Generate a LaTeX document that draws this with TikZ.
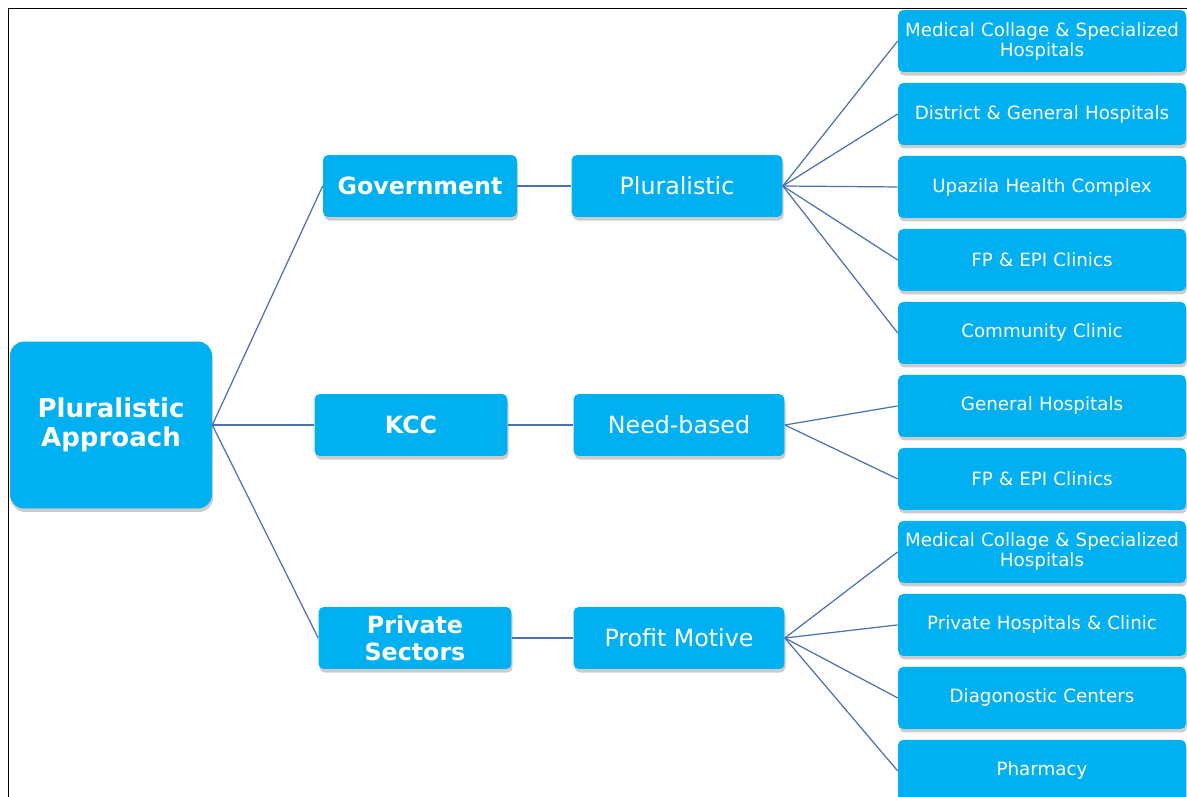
\documentclass[tikz,border=0pt]{standalone}
\usepackage{fontspec}
\setmainfont{DejaVu Sans}
\usetikzlibrary{positioning,shadows}

\definecolor{boxblue}{HTML}{00B0F0}
\definecolor{linkblue}{HTML}{4A72B0}

\begin{document}
\begin{tikzpicture}[
    x=0.02cm, y=-0.02cm,
    node distance=0.206cm,
    box/.style={
        fill=boxblue,
        text=white,
        rounded corners=3pt,
        align=center,
        inner sep=2pt,
        minimum height=1.24cm,
        drop shadow={opacity=0.4, shadow xshift=0.6pt, shadow yshift=-2pt}
    },
    root/.style={
        box,
        rounded corners=8pt,
        minimum width=4.04cm,
        minimum height=3.34cm,
        font=\fontsize{14.8}{16.6}\selectfont\bfseries
    },
    sector/.style={
        box,
        minimum width=3.88cm,
        font=\fontsize{13.5}{15}\selectfont\bfseries
    },
    kind/.style={
        box,
        minimum width=4.22cm,
        font=\fontsize{13.5}{15}\selectfont
    },
    leaf/.style={
        box,
        minimum width=5.76cm,
        text width=5.6cm,
        font=\fontsize{10.4}{11.4}\selectfont
    },
    link/.style={
        draw=linkblue,
        line width=0.7pt
    }
]
\useasboundingbox (0,0) rectangle (1187,797);

% frame
\draw[line width=1.1pt] (8.5,797) -- (8.5,8.5) -- (1187,8.5);

% first two columns
\node[root] (approach) at (111,425) {Pluralistic\\Approach};

\node[sector] (gov) at (420,186) {Government};
\node[sector, minimum width=3.86cm] (kcc) at (411,425) {KCC};
\node[sector, minimum width=3.86cm] (private) at (415,638) {Private\\Sectors};

\node[kind] (plural) at (677,186) {Pluralistic};
\node[kind] (need) at (679,425) {Need-based};
\node[kind] (profit) at (679,638) {Profit Motive};

% leaves
\node[leaf] (medical) at (1042,41) {Medical Collage \& Specialized\\Hospitals};
\node[leaf, below=of medical] (district) {District \& General Hospitals};
\node[leaf, below=of district] (upazila) {Upazila Health Complex};
\node[leaf, below=of upazila] (fpepi) {FP \& EPI Clinics};
\node[leaf, below=of fpepi] (community) {Community Clinic};
\node[leaf, below=of community] (general) {General Hospitals};
\node[leaf, below=of general] (kccfpepi) {FP \& EPI Clinics};
\node[leaf, below=of kccfpepi] (privmedical) {Medical Collage \& Specialized\\Hospitals};
\node[leaf, below=of privmedical] (privhosp) {Private Hospitals \& Clinic};
\node[leaf, below=of privhosp] (diagnostic) {Diagonostic Centers};
\node[leaf, below=of diagnostic] (pharmacy) {Pharmacy};

% connectors
\draw[link] (approach.east) -- (gov.west);
\draw[link] (approach.east) -- (kcc.west);
\draw[link] (approach.east) -- (private.west);

\draw[link] (gov) -- (plural);
\draw[link] (kcc) -- (need);
\draw[link] (private) -- (profit);

\draw[link] (plural.east) -- (medical.west);
\draw[link] (plural.east) -- (district.west);
\draw[link] (plural.east) -- (upazila.west);
\draw[link] (plural.east) -- (fpepi.west);
\draw[link] (plural.east) -- (community.west);

\draw[link] (need.east) -- (general.west);
\draw[link] (need.east) -- (kccfpepi.west);

\draw[link] (profit.east) -- (privmedical.west);
\draw[link] (profit.east) -- (privhosp.west);
\draw[link] (profit.east) -- (diagnostic.west);
\draw[link] (profit.east) -- (pharmacy.west);

\end{tikzpicture}
\end{document}
